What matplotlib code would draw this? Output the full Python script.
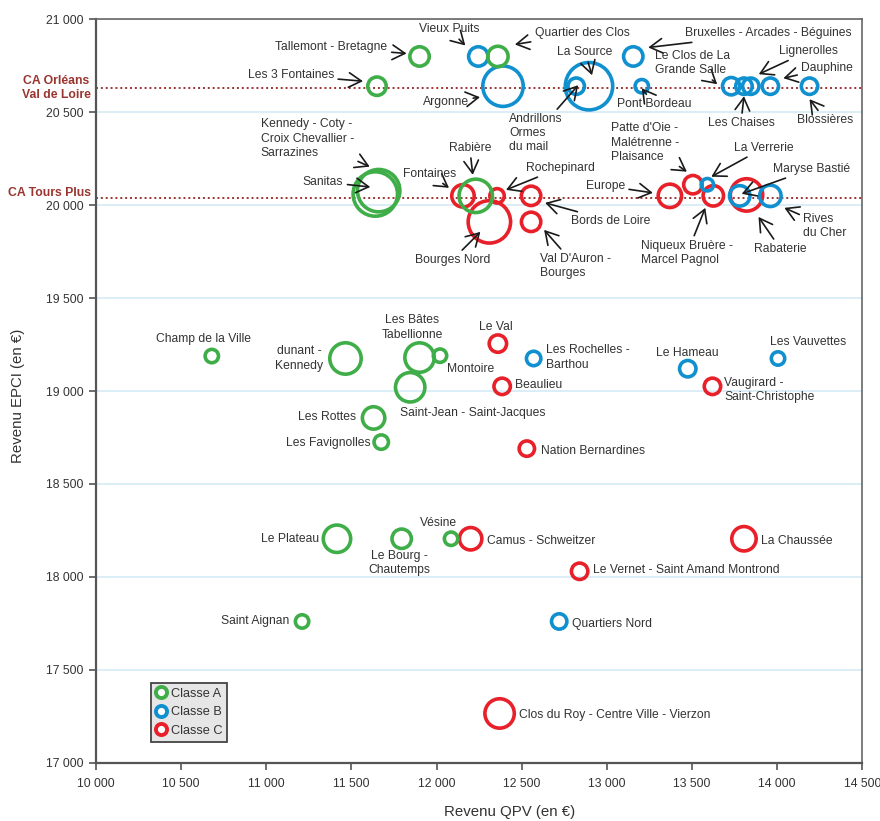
import numpy as np
import matplotlib

matplotlib.use("Agg")
import matplotlib.pyplot as plt
from matplotlib.lines import Line2D
from matplotlib.transforms import offset_copy

plt.rcParams["font.family"] = ["Liberation Sans", "DejaVu Sans"]

# --- données -----------------------------------------------------------
noms = [
    # Classe A
    "Tallemont - Bretagne", "Les 3 Fontaines", "Kennedy - Coty -\nCroix Chevallier -\nSarrazines",
    "Sanitas", "Rabière", "Quartier des Clos", "Champ de la Ville", "dunant -\nKennedy",
    "Les Bâtes\nTabellionne", "Montoire", "Saint-Jean - Saint-Jacques", "Les Rottes",
    "Les Favignolles", "Le Plateau", "Le Bourg -\nChautemps", "Vésine", "Saint Aignan",
    # Classe B
    "Vieux Puits", "Argonne", "La Source", "Andrillons\nOrmes\ndu mail",
    "Bruxelles - Arcades - Béguines", "Pont Bordeau", "Le Clos de La\nGrande Salle",
    "Les Chaises", "Lignerolles", "Dauphine", "Blossières", "La Verrerie", "Maryse Bastié",
    "Rives\ndu Cher", "Les Rochelles -\nBarthou", "Le Hameau", "Les Vauvettes", "Quartiers Nord",
    # Classe C
    "Fontaines", "Rochepinard", "Bourges Nord", "Bords de Loire", "Val D'Auron -\nBourges",
    "Europe", "Patte d'Oie -\nMalétrenne -\nPlaisance", "Niqueux Bruère -\nMarcel Pagnol",
    "Rabaterie", "Le Val", "Beaulieu", "Nation Bernardines", "Vaugirard -\nSaint-Christophe",
    "Camus - Schweitzer", "La Chaussée", "Le Vernet - Saint Amand Montrond",
    "Clos du Roy - Centre Ville - Vierzon",
]
revenu_qpv = [
    11900, 11650, 11660, 11640, 12230, 12360, 10680, 11465, 11900, 12020, 11845, 11630,
    11675, 11415, 11795, 12085, 11210,
    12245, 12390, 12895, 12820, 13155, 13205, 13730, 13805, 13845, 13960, 14190, 13590,
    13780, 13960, 12570, 13475, 14005, 12720,
    12155, 12355, 12310, 12555, 12555, 13370, 13505, 13625, 13820, 12360, 12385, 12530,
    13620, 12200, 13805, 12840, 12370,
]
revenu_epci = [
    20800, 20640, 20078, 20060, 20050, 20800, 19188, 19175, 19180, 19190, 19020, 18855,
    18725, 18205, 18205, 18205, 17760,
    20800, 20640, 20640, 20640, 20800, 20640, 20640, 20640, 20640, 20640, 20640, 20110,
    20050, 20050, 19175, 19120, 19175, 17760,
    20050, 20050, 19910, 20050, 19910, 20050, 20110, 20050, 20055, 19255, 19025, 18690,
    19025, 18205, 18205, 18030, 17265,
]
classes = ["A"] * 17 + ["B"] * 18 + ["C"] * 17
population = [
    1320, 1210, 5290, 5760, 3420, 1440, 720, 3060, 2720, 720, 2720, 1690, 810, 2400, 1320,
    720, 720,
    1320, 4840, 6500, 1000, 1320, 720, 1100, 1000, 1000, 1000, 1000, 640, 1440, 1560, 810,
    1000, 720, 900,
    1690, 810, 5290, 1320, 1320, 1820, 1210, 1440, 3240, 1100, 1000, 900, 1000, 1690, 1960,
    1000, 2720,
]
epci_refs = ["CA Orléans\nVal de Loire", "CA Tours Plus"]
epci_ref_values = [20630, 20040]

classe_labels = ["Classe A", "Classe B", "Classe C"]
couleurs = {"A": "#3fae49", "B": "#1190d0", "C": "#e8202a"}

# --- placement des étiquettes (pixels, relatif au centre du cercle) -----
# nom: (alignement, dx, dy, pointe de flèche ou None)
ETIQUETTES = {
    "Tallemont - Bretagne": ("right", -32, 9, (-13, 3)),
    "Les 3 Fontaines": ("right", -43, 11, (-14, 5)),
    "Kennedy - Coty -\nCroix Chevallier -\nSarrazines": ("left", -118, 52, (-9, 24)),
    "Sanitas": ("right", -32, 12, (-5, 7)),
    "Rabière": ("center", -6, 48, (-3, 21)),
    "Quartier des Clos": ("left", 37, 23, (17, 12)),
    "Champ de la Ville": ("center", -8, 17, None),
    "dunant -\nKennedy": ("right", -22, 0, None),
    "Les Bâtes\nTabellionne": ("center", -7, 30, None),
    "Montoire": ("left", 7, -13, None),
    "Saint-Jean - Saint-Jacques": ("left", -10, -26, None),
    "Les Rottes": ("right", -17, 1, None),
    "Les Favignolles": ("right", -11, -1, None),
    "Le Plateau": ("right", -18, 0, None),
    "Le Bourg -\nChautemps": ("center", -2, -24, None),
    "Vésine": ("center", -13, 16, None),
    "Saint Aignan": ("right", -13, 0, None),
    "Vieux Puits": ("center", -29, 27, (-13, 11)),
    "Argonne": ("right", -34, -16, (-23, -11)),
    "La Source": ("center", -4, 34, (3, 11)),
    "Andrillons\nOrmes\ndu mail": ("left", -67, -47, (2, 1)),
    "Bruxelles - Arcades - Béguines": ("left", 52, 23, (15, 9)),
    "Pont Bordeau": ("center", 12, -18, (0, -2)),
    "Le Clos de La\nGrande Salle": ("left", -76, 23, (-14, 2)),
    "Les Chaises": ("center", -3, -37, (0, -10)),
    "Lignerolles": ("left", 28, 35, (8, 12)),
    "Dauphine": ("left", 31, 18, (13, 8)),
    "Blossières": ("center", 16, -34, (0, -13)),
    "La Verrerie": ("left", 27, 37, (4, 8)),
    "Maryse Bastié": ("left", 33, 27, (2, 2)),
    "Rives\ndu Cher": ("left", 33, -30, (14, -12)),
    "Les Rochelles -\nBarthou": ("left", 12, 1, None),
    "Le Hameau": ("center", 0, 16, None),
    "Les Vauvettes": ("center", 30, 16, None),
    "Quartiers Nord": ("left", 13, -3, None),
    "Fontaines": ("right", -7, 22, (-14, 8)),
    "Rochepinard": ("left", 29, 28, (9, 6)),
    "Bourges Nord": ("center", -37, -38, (-9, -10)),
    "Bords de Loire": ("left", 40, -25, (14, -7)),
    "Val D'Auron -\nBourges": ("left", 9, -44, (13, -8)),
    "Europe": ("right", -45, 10, (-17, 3)),
    "Patte d'Oie -\nMalétrenne -\nPlaisance": ("left", -82, 42, (-6, 13)),
    "Niqueux Bruère -\nMarcel Pagnol": ("left", -72, -57, (-8, -12)),
    "Rabaterie": ("center", 34, -54, (12, -22)),
    "Le Val": ("center", -2, 17, None),
    "Beaulieu": ("left", 13, 1, None),
    "Nation Bernardines": ("left", 14, -2, None),
    "Vaugirard -\nSaint-Christophe": ("left", 12, -4, None),
    "Camus - Schweitzer": ("left", 16, -2, None),
    "La Chaussée": ("left", 17, -2, None),
    "Le Vernet - Saint Amand Montrond": ("left", 13, 1, None),
    "Clos du Roy - Centre Ville - Vierzon": ("left", 19, -2, None),
}

TEXTE = "#333333"
ROUGE_REF = "#9a3530"
RING_LW = 2.6  # points
FS = 8.7
LS = 1.25

fig = plt.figure(figsize=(8.8, 8.21), dpi=100)
ax = fig.add_axes([0.1091, 0.0710, 0.8708, 0.9055])

x = np.array(revenu_qpv, dtype=float)
y = np.array(revenu_epci, dtype=float)
pop = np.array(population, dtype=float)
rayon_px = np.sqrt(pop / 10.0)
taille = (2 * (rayon_px - 1.8) * 0.72) ** 2
cls = np.array(classes)

for c in ["C", "B", "A"]:
    m = cls == c
    ax.scatter(x[m], y[m], s=taille[m], facecolors="none", edgecolors=couleurs[c],
               linewidths=RING_LW, zorder=3 + "CBA".index(c))

# lignes de référence EPCI
for label, val in zip(epci_refs, epci_ref_values):
    ax.axhline(val, color=ROUGE_REF, ls=(0, (1, 1.5)), lw=1.4, zorder=2)
    ax.annotate(label, xy=(0, val), xycoords=("axes fraction", "data"),
                xytext=(-5, 5 if "\n" not in label else 0), textcoords="offset pixels",
                ha="right", va="center", fontsize=8.8, fontweight="bold",
                color=ROUGE_REF, multialignment="center", linespacing=1.15,
                annotation_clip=False)

# étiquettes
for nom, xi, yi in zip(noms, x, y):
    ha, dx, dy, tip = ETIQUETTES[nom]
    multi = "center" if nom.startswith("dunant") else ha
    if tip is None:
        ax.annotate(nom, xy=(xi, yi), xytext=(dx, dy), textcoords="offset pixels",
                    ha=ha, va="center", fontsize=FS, color=TEXTE, multialignment=multi,
                    linespacing=LS, zorder=6)
    else:
        tx, ty = tip
        tr = offset_copy(ax.transData, fig=fig, x=tx, y=ty, units="dots")
        ax.annotate(nom, xy=(xi, yi), xycoords=tr, xytext=(dx - tx, dy - ty),
                    textcoords="offset pixels", ha=ha, va="center", fontsize=FS,
                    color=TEXTE, multialignment=multi, linespacing=LS, zorder=6,
                    arrowprops=dict(arrowstyle="->,head_length=0.6,head_width=0.35",
                                    color="#1a1a1a", lw=1.2, shrinkA=1, shrinkB=0,
                                    mutation_scale=15))

ax.set_xlim(10000, 14500)
ax.set_ylim(17000, 21000)
ax.set_xticks(np.arange(10000, 14501, 500))
ax.set_yticks(np.arange(17000, 21001, 500))
fmt = lambda v: f"{v:,.0f}".replace(",", " ")
ax.set_xticklabels([fmt(v) for v in ax.get_xticks()])
ax.set_yticklabels([fmt(v) for v in ax.get_yticks()])
ax.tick_params(axis="both", direction="out", length=5, width=1.2, colors="#555555",
               labelcolor=TEXTE, labelsize=8.8)
ax.tick_params(axis="x", pad=6)
ax.tick_params(axis="y", pad=4)
ax.yaxis.grid(True, color="#d4eaf6", lw=1.2, zorder=0)
ax.set_axisbelow(True)
for side in ["left", "bottom"]:
    ax.spines[side].set_color("#555555")
    ax.spines[side].set_linewidth(1.6)
for side in ["top", "right"]:
    ax.spines[side].set_color("#666666")
    ax.spines[side].set_linewidth(1.2)

fig.text(18 / 880, 1 - 396 / 821, "Revenu EPCI (en €)", rotation=90, ha="center",
         va="center", fontsize=10.8, color=TEXTE)
fig.text(510 / 880, 1 - 812 / 821, "Revenu QPV (en €)", ha="center", va="center",
         fontsize=10.8, color=TEXTE)

handles = [Line2D([], [], ls="none", marker="o", markersize=8, markerfacecolor="white",
                  markeredgecolor=couleurs[c], markeredgewidth=2.8) for c in "ABC"]
leg = ax.legend(handles, classe_labels, loc="upper left", bbox_to_anchor=(0.0714, 0.1076),
                borderaxespad=0, fancybox=False, framealpha=1, facecolor="#e6e6e6",
                edgecolor="#444444", fontsize=9.2, handlelength=0.8, handletextpad=0.35,
                borderpad=0.4, labelspacing=0.5)
leg.get_frame().set_linewidth(1.3)
for t in leg.get_texts():
    t.set_color(TEXTE)

fig.savefig("out.png", dpi=100)
